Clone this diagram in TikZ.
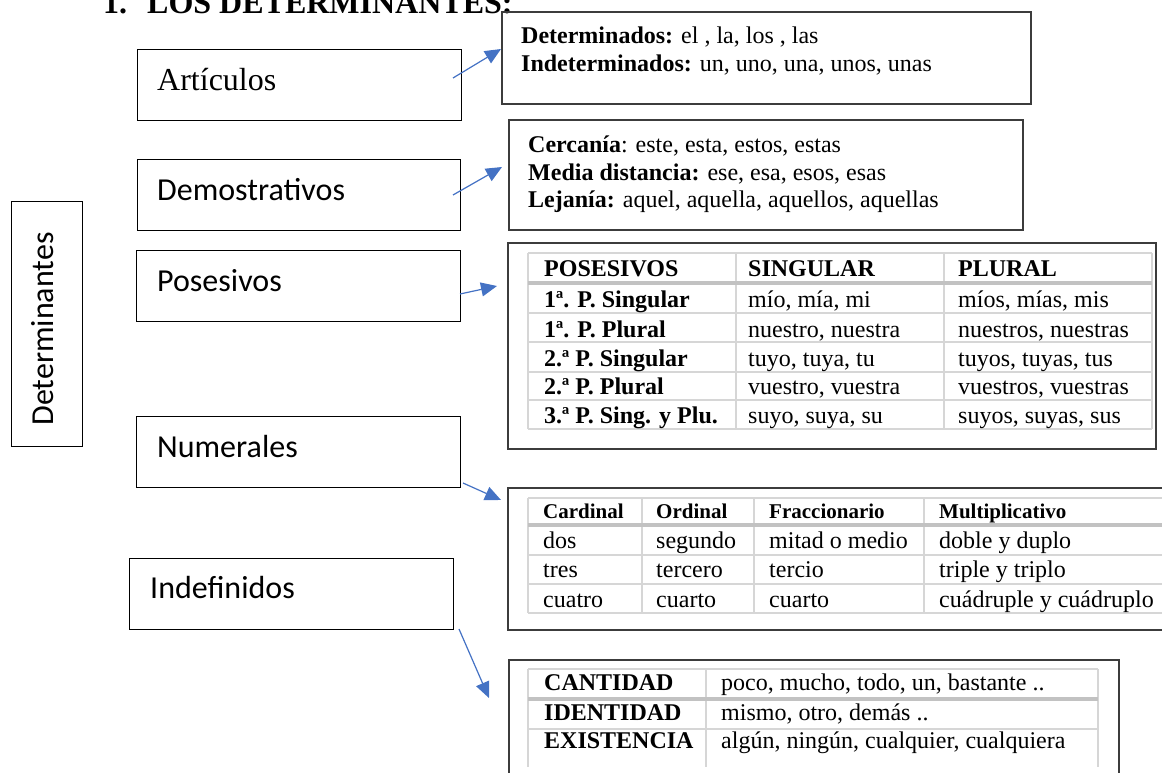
\documentclass[tikz,border=0pt]{standalone}
\usepackage{fontspec}
\setmainfont{Liberation Serif}
\newfontfamily\calibri{Carlito}
\usetikzlibrary{arrows.meta}
\definecolor{arrowblue}{HTML}{4472C4}
\definecolor{gridgray}{HTML}{D6D6D6}
\definecolor{headgray}{HTML}{C2C2C2}
\definecolor{boxgray}{HTML}{3C3C3C}
\begin{document}
\begin{tikzpicture}[x=1pt,y=-1pt,
  lbox/.style={draw=black,line width=1.2pt,inner sep=0pt,anchor=north west},
  rbox/.style={draw=boxgray,line width=1.5pt,inner sep=0pt,anchor=north west},
  lbl/.style={anchor=base west,inner sep=0pt,font=\calibri\fontsize{32}{32}\selectfont},
  txt/.style={anchor=base west,inner sep=0pt,font=\fontsize{24}{28}\selectfont},
  bt/.style={anchor=base west,inner sep=0pt,font=\bfseries\fontsize{24}{28}\selectfont},
  nh/.style={anchor=base west,inner sep=0pt,font=\bfseries\fontsize{21}{24}\selectfont},
  ttl/.style={anchor=base west,inner sep=0pt,font=\bfseries\fontsize{32}{36}\selectfont},
  arr/.style={draw=arrowblue,line width=1.2pt,-{Triangle[length=16pt,width=14pt]}},
  grid/.style={draw=gridgray,line width=2pt},
  hline/.style={draw=headgray,line width=4pt}]
\useasboundingbox (0,0) rectangle (1162,772);
\clip (0,0) rectangle (1162,772);

% title
\node[ttl] (t1) at (103,13) {1.};
\node[ttl] (t2) at (147,13) {LOS DETERMINANTES:};

% left boxes
\node[lbox,minimum width=71pt,minimum height=245pt] (detbox) at (11,201) {};
\node[anchor=base,inner sep=0pt,rotate=90,font=\calibri\fontsize{32}{32}\selectfont] (dett) at (53,329) {Determinantes};

\node[lbox,minimum width=324pt,minimum height=71pt] (art) at (137,49) {};
\node[anchor=base west,inner sep=0pt,font=\fontsize{32}{32}\selectfont] (artt) at (157,90) {Artículos};
\node[lbox,minimum width=323pt,minimum height=71pt] (dem) at (137,159) {};
\node[lbl] (demt) at (157,200) {Demostrativos};
\node[lbox,minimum width=324pt,minimum height=71pt] (pos) at (136,250) {};
\node[lbl] (post) at (157,291) {Posesivos};
\node[lbox,minimum width=324pt,minimum height=71pt] (num) at (136,416) {};
\node[lbl] (numt) at (157,457) {Numerales};
\node[lbox,minimum width=324pt,minimum height=71pt] (ind) at (129,558) {};
\node[lbl] (indt) at (150,598) {Indefinidos};

% right boxes
\node[rbox,minimum width=529pt,minimum height=92pt] (rart) at (501,11) {};
\node[rbox,minimum width=514pt,minimum height=110pt] (rdem) at (508,119) {};
\node[rbox,minimum width=648pt,minimum height=206pt] (rpos) at (507,242) {};
\node[rbox,minimum width=700pt,minimum height=142pt] (rnum) at (507,487) {};
\node[rbox,minimum width=610pt,minimum height=160pt] (rind) at (508,659) {};

% articulos text
\node[txt] (ra1) at (521,43) {\textbf{Determinados:} el , la, los , las};
\node[txt] (ra2) at (521,71) {\textbf{Indeterminados:} un, uno, una, unos, unas};
% demostrativos text
\node[txt] (rd1) at (528,152) {\textbf{Cercanía}: este, esta, estos, estas};
\node[txt] (rd2) at (528,180) {\textbf{Media distancia:} ese, esa, esos, esas};
\node[txt] (rd3) at (528,207) {\textbf{Lejanía:} aquel, aquella, aquellos, aquellas};

% posesivos table
\foreach \yy in {253,313,342,372,400,429} \draw[grid] (528,\yy) -- (1152,\yy);
\foreach \xx in {528,736,944,1152} \draw[grid] (\xx,253) -- (\xx,429);
\draw[hline] (528,283) -- (1152,283);
\node[bt] (p01) at (544,276) {POSESIVOS};
\node[bt] (p02) at (748,276) {SINGULAR};
\node[bt] (p03) at (958,276) {PLURAL};
\node[bt] (p11) at (544,307) {1ª. P. Singular};
\node[txt] (p12) at (748,307) {mío, mía, mi};
\node[txt] (p13) at (958,307) {míos, mías, mis};
\node[bt] (p21) at (544,337) {1ª. P. Plural};
\node[txt] (p22) at (748,337) {nuestro, nuestra};
\node[txt] (p23) at (958,337) {nuestros, nuestras};
\node[bt] (p31) at (544,366) {2.ª P. Singular};
\node[txt] (p32) at (748,366) {tuyo, tuya, tu};
\node[txt] (p33) at (958,366) {tuyos, tuyas, tus};
\node[bt] (p41) at (544,394) {2.ª P. Plural};
\node[txt] (p42) at (748,394) {vuestro, vuestra};
\node[txt] (p43) at (958,394) {vuestros, vuestras};
\node[bt] (p51) at (544,423) {3.ª P. Sing. y Plu.};
\node[txt] (p52) at (748,423) {suyo, suya, su};
\node[txt] (p53) at (958,423) {suyos, suyas, sus};

% numerales table
\foreach \yy in {498,555,584,613} \draw[grid] (528,\yy) -- (1175,\yy);
\foreach \xx in {528,642,754,924} \draw[grid] (\xx,498) -- (\xx,613);
\draw[hline] (528,525) -- (1175,525);
\node[nh] (n01) at (543,518) {Cardinal};
\node[nh] (n02) at (656,518) {Ordinal};
\node[nh] (n03) at (769,518) {Fraccionario};
\node[nh] (n04) at (939,518) {Multiplicativo};
\node[txt] (n11) at (543,548) {dos};
\node[txt] (n12) at (656,548) {segundo};
\node[txt] (n13) at (769,548) {mitad o medio};
\node[txt] (n14) at (939,548) {doble y duplo};
\node[txt] (n21) at (543,577) {tres};
\node[txt] (n22) at (656,577) {tercero};
\node[txt] (n23) at (769,577) {tercio};
\node[txt] (n24) at (939,577) {triple y triplo};
\node[txt] (n31) at (543,607) {cuatro};
\node[txt] (n32) at (656,607) {cuarto};
\node[txt] (n33) at (769,607) {cuarto};
\node[txt] (n34) at (939,607) {cuádruple y cuádruplo};

% indefinidos table
\foreach \yy in {669,729} \draw[grid] (528,\yy) -- (1098,\yy);
\foreach \xx in {528,706,1098} \draw[grid] (\xx,669) -- (\xx,767);
\draw[hline] (528,699) -- (1098,699);
\node[bt] (i11) at (544,690) {CANTIDAD};
\node[txt] (i12) at (721,690) {poco, mucho, todo, un, bastante ..};
\node[bt] (i21) at (544,720) {IDENTIDAD};
\node[txt] (i22) at (721,720) {mismo, otro, demás ..};
\node[bt] (i31) at (544,748) {EXISTENCIA};
\node[txt] (i32) at (721,748) {algún, ningún, cualquier, cualquiera};

% connectors
\coordinate (a1s) at (453,78);  \coordinate (a1e) at (501,49);
\coordinate (a2s) at (453,195); \coordinate (a2e) at (502,167);
\coordinate (a3s) at (460,294); \coordinate (a3e) at (497,286);
\coordinate (a4s) at (463,483); \coordinate (a4e) at (501,500);
\coordinate (a5s) at (459,629); \coordinate (a5e) at (489,698);
\draw[arr] (a1s) -- (a1e);
\draw[arr] (a2s) -- (a2e);
\draw[arr] (a3s) -- (a3e);
\draw[arr] (a4s) -- (a4e);
\draw[arr] (a5s) -- (a5e);
\end{tikzpicture}
\end{document}
